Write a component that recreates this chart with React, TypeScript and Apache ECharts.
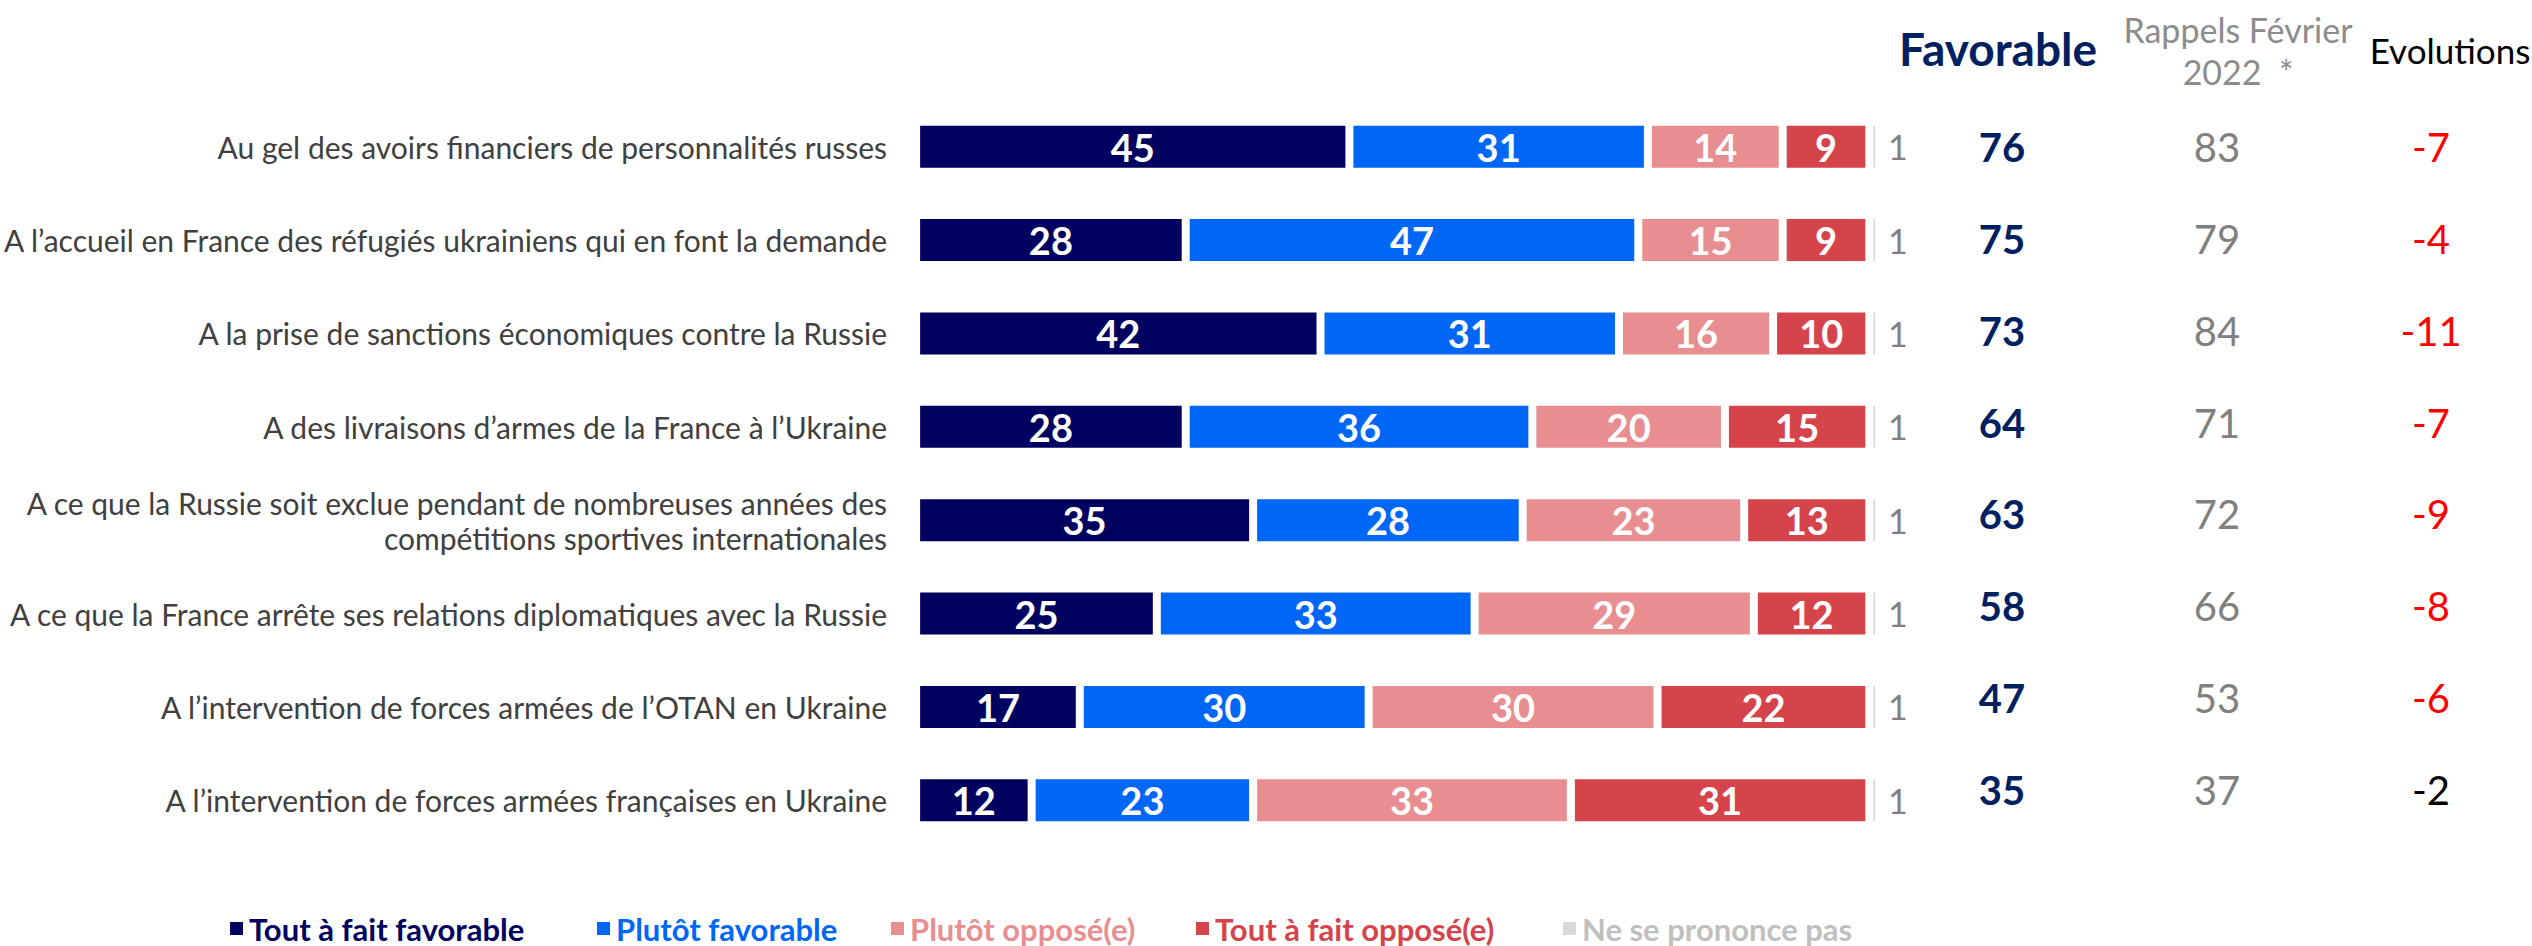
import React, { useEffect, useRef } from "react";
import * as echarts from "echarts";

const categories = [
  "Au gel des avoirs financiers de personnalités russes",
  "A l’accueil en France des réfugiés ukrainiens qui en font la demande",
  "A la prise de sanctions économiques contre la Russie",
  "A des livraisons d’armes de la France à l’Ukraine",
  "A ce que la Russie soit exclue pendant de nombreuses années des\ncompétitions sportives internationales",
  "A ce que la France arrête ses relations diplomatiques avec la Russie",
  "A l’intervention de forces armées de l’OTAN en Ukraine",
  "A l’intervention de forces armées françaises en Ukraine",
];

const seriesNames = [
  "Tout à fait favorable",
  "Plutôt favorable",
  "Plutôt opposé(e)",
  "Tout à fait opposé(e)",
  "Ne se prononce pas",
];

const toutFavorable = [45, 28, 42, 28, 35, 25, 17, 12];
const plutotFavorable = [31, 47, 31, 36, 28, 33, 30, 23];
const plutotOppose = [14, 15, 16, 20, 23, 29, 30, 33];
const toutOppose = [9, 9, 10, 15, 13, 12, 22, 31];
const nsp = [1, 1, 1, 1, 1, 1, 1, 1];

const favorable = [76, 75, 73, 64, 63, 58, 47, 35];
const rappels2022 = [83, 79, 84, 71, 72, 66, 53, 37];
const evolutions = [-7, -4, -11, -7, -9, -8, -6, -2];
const evolSignificant = [true, true, true, true, true, true, true, false];

const headers = ["Favorable", "Rappels Février", "2022  *", "Evolutions"];

const FONT = "Lato, 'Open Sans', sans-serif";
const colors = ["#000060", "#0066F5", "#E88E91", "#D6444B", "#D9D9D9"];
const legendTextColors = ["#000060", "#0066F5", "#E88E91", "#D6444B", "#BFBFBF"];

export default function App() {
  const ref = useRef<HTMLDivElement>(null);

  useEffect(() => {
    document.body.style.margin = "0";
    if (!ref.current) return;
    const chart = echarts.init(ref.current, null, { renderer: "svg" });

    const barData = [toutFavorable, plutotFavorable, plutotOppose, toutOppose, nsp];

    const barSeries = barData.map((d, k) => ({
      name: seriesNames[k],
      type: "bar",
      stack: "total",
      xAxisIndex: 0,
      yAxisIndex: 0,
      barWidth: 50,
      data: d,
      itemStyle: { color: colors[k], borderColor: "#ffffff", borderWidth: 4 },
      label:
        k < 4
          ? {
              show: true,
              position: "inside",
              color: "#ffffff",
              fontWeight: "bold",
              fontSize: 38,
              fontFamily: FONT,
            }
          : {
              show: true,
              position: "right",
              distance: 9,
              color: "#808080",
              fontSize: 34,
              fontFamily: FONT,
            },
    }));

    const colCenters = [2002, 2217, 2431];
    const colGrids = colCenters.map((c) => ({
      left: c - 60,
      width: 120,
      top: 101,
      bottom: 110,
    }));

    const colValues = [favorable, rappels2022, evolutions];
    const colSeries = colValues.map((vals, g) => ({
      type: "scatter",
      xAxisIndex: g + 1,
      yAxisIndex: g + 1,
      symbolSize: 2,
      itemStyle: { color: "rgba(0,0,0,0)", opacity: 1 },
      data: vals.map((v, i) => ({
        value: [0, i],
        label: {
          show: true,
          position: "inside",
          formatter: String(v),
          fontSize: 40,
          fontWeight: g === 0 ? "bold" : "normal",
          fontFamily: FONT,
          color:
            g === 0 ? "#002060" : g === 1 ? "#808080" : evolSignificant[i] ? "#FF0000" : "#000000",
        },
      })),
    }));

    const legends = seriesNames.map((n, k) => ({
      show: true,
      left: [228, 595, 889, 1194, 1561][k],
      top: 913,
      padding: 0,
      icon: "rect",
      itemWidth: 15,
      itemHeight: 15,
      selectedMode: false,
      data: [{ name: n, textStyle: { color: legendTextColors[k] } }],
      textStyle: { fontSize: 31, lineHeight: 31, fontWeight: "bold", fontFamily: FONT },
    }));

    const option = {
      animation: false,
      backgroundColor: "#ffffff",
      grid: [
        { left: 913, width: 966, top: 100, bottom: 99 },
        ...colGrids,
      ],
      xAxis: [
        { type: "value", min: 0, max: 100, show: false, gridIndex: 0 },
        ...colGrids.map((_, g) => ({ type: "value", min: -1, max: 1, show: false, gridIndex: g + 1 })),
      ],
      yAxis: [
        {
          type: "category",
          gridIndex: 0,
          inverse: true,
          data: categories,
          axisLine: { show: false },
          axisTick: { show: false },
          splitLine: { show: false },
          axisLabel: {
            margin: 29,
            fontSize: 30,
            lineHeight: 35,
            color: "#404040",
            fontFamily: FONT,
          },
        },
        ...colGrids.map((_, g) => ({
          type: "category",
          gridIndex: g + 1,
          inverse: true,
          data: categories.map((_c, i) => String(i)),
          show: false,
        })),
      ],
      legend: legends,
      series: [...barSeries, ...colSeries],
      graphic: [
        {
          type: "text",
          x: 1998,
          y: 48,
          style: {
            text: headers[0],
            fill: "#002060",
            font: `bold 46px ${FONT}`,
            align: "center",
            verticalAlign: "middle",
          },
        },
        {
          type: "text",
          x: 2238,
          y: 29,
          style: {
            text: headers[1],
            fill: "#8C8C8C",
            font: `34px ${FONT}`,
            align: "center",
            verticalAlign: "middle",
          },
        },
        {
          type: "text",
          x: 2238,
          y: 71,
          style: {
            text: headers[2],
            fill: "#8C8C8C",
            font: `34px ${FONT}`,
            align: "center",
            verticalAlign: "middle",
          },
        },
        {
          type: "text",
          x: 2450,
          y: 50,
          style: {
            text: headers[3],
            fill: "#000000",
            font: `35px ${FONT}`,
            align: "center",
            verticalAlign: "middle",
          },
        },
      ],
    };

    chart.setOption(option as any);
    return () => chart.dispose();
  }, []);

  return <div ref={ref} style={{ width: 2532, height: 946 }} />;
}
